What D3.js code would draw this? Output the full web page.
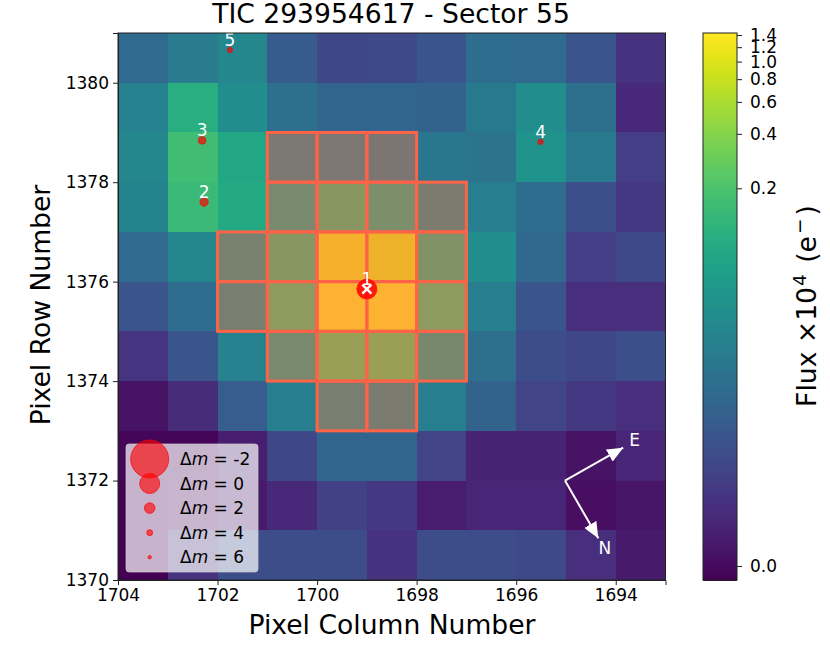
<!DOCTYPE html>
<html>
<head>
<meta charset="utf-8">
<script src="https://cdn.jsdelivr.net/npm/d3@7"></script>
<style>
  body { margin: 0; background: #fff; }
  text { font-family: "DejaVu Sans", sans-serif; }
  .tick text { font-size: 17px; fill: #000; }
  .tick line, .domain { stroke: #222; }
</style>
</head>
<body>
<svg id="chart" width="830" height="659"></svg>
<script>
// pixel grid, left edge columns and top edge rows
const columns = [1704, 1703, 1702, 1701, 1700, 1699, 1698, 1697, 1696, 1695, 1694];
const rows = [1381, 1380, 1379, 1378, 1377, 1376, 1375, 1374, 1373, 1372, 1371];

// flux x10^4 e-, one line per row from top to bottom
const flux0 = [0.0135, 0.0231, 0.0336, 0.0083, 0.00446, 0.0049, 0.00699, 0.0146, 0.0135, 0.00699, 0.00213];
const flux1 = [0.0290, 0.108, 0.0390, 0.0158, 0.0115, 0.0115, 0.0106, 0.0214, 0.0390, 0.0158, 0.00143];
const flux2 = [0.0336, 0.172, 0.0867, 0.0336, 0.0312, 0.0269, 0.0198, 0.0184, 0.0485, 0.0214, 0.00332];
const flux3 = [0.0300, 0.154, 0.0932, 0.0750, 0.154, 0.100, 0.0361, 0.0249, 0.0146, 0.00588, 0.00268];
const flux4 = [0.0135, 0.0336, 0.0522, 0.154, 1.22, 1.057, 0.124, 0.0390, 0.0125, 0.00332, 0.0049];
const flux5 = [0.00699, 0.0146, 0.0451, 0.178, 1.43, 1.43, 0.178, 0.0249, 0.00699, 0.00188, 0.00188];
const flux6 = [0.00239, 0.00699, 0.0290, 0.0750, 0.237, 0.237, 0.0698, 0.0158, 0.00537, 0.00446, 0.00588];
const flux7 = [0.00029, 0.00165, 0.0090, 0.0249, 0.0419, 0.0361, 0.0249, 0.0106, 0.00405, 0.00268, 0.00188];
const flux8 = [-0.00015, -0.00015, 0.00087, 0.00446, 0.0115, 0.0115, 0.00405, 0.00105, 0.00105, 0.00029, 0.00123];
const flux9 = [-0.0003, -0.00006, 0.00056, 0.00143, 0.00367, 0.00268, 0.00071, 0.00123, 0.00123, 0.00016, 0.00042];
const flux10 = [-0.0003, 0.00213, 0.00537, 0.00537, 0.00537, 0.00213, 0.00537, 0.00537, 0.0049, 0.00188, 0.00056];
const flux = [flux0, flux1, flux2, flux3, flux4, flux5, flux6, flux7, flux8, flux9, flux10];

// aperture mask, same order as flux
const aperture = [
  [0, 0, 0, 0, 0, 0, 0, 0, 0, 0, 0],
  [0, 0, 0, 0, 0, 0, 0, 0, 0, 0, 0],
  [0, 0, 0, 1, 1, 1, 0, 0, 0, 0, 0],
  [0, 0, 0, 1, 1, 1, 1, 0, 0, 0, 0],
  [0, 0, 1, 1, 1, 1, 1, 0, 0, 0, 0],
  [0, 0, 1, 1, 1, 1, 1, 0, 0, 0, 0],
  [0, 0, 0, 1, 1, 1, 1, 0, 0, 0, 0],
  [0, 0, 0, 0, 1, 1, 0, 0, 0, 0, 0],
  [0, 0, 0, 0, 0, 0, 0, 0, 0, 0, 0],
  [0, 0, 0, 0, 0, 0, 0, 0, 0, 0, 0],
  [0, 0, 0, 0, 0, 0, 0, 0, 0, 0, 0]
];

// nearby stars
const starIds = ["1", "2", "3", "4", "5"];
const starCols = [1699.0, 1702.27, 1702.31, 1695.51, 1701.75];
const starRows = [1375.85, 1377.6, 1378.84, 1378.81, 1380.66];
const starMags = [0, 3, 3.3, 4.5, 4.7];

const legendMags = [-2, 0, 2, 4, 6];
const xTicks = [1704, 1702, 1700, 1698, 1696, 1694];
const yTicks = [1370, 1372, 1374, 1376, 1378, 1380];
const cbarTicks = [0.0, 0.2, 0.4, 0.6, 0.8, 1.0, 1.2, 1.4];

const svg = d3.select("#chart");

const x = d3.scaleLinear().domain([1704, 1693]).range([118, 665.5]);
const y = d3.scaleLinear().domain([1370, 1381]).range([580, 33]);
const size = d3.scaleLinear().domain(legendMags).range([19, 10, 5.3, 3, 1.7]);

// colour stretch is symlog
const fluxMin = -0.00033, fluxMax = 1.436, linThresh = 0.0017;
const norm = d3.scaleSymlog().constant(linThresh).domain([fluxMin, fluxMax]).range([0, 1]);
const colour = v => d3.interpolateViridis(norm(v));

// image
const cells = flux.flatMap((line, i) => line.map((v, j) => ({
  col: columns[j], row: rows[i], v: v, inAperture: aperture[i][j] === 1
})));

svg.append("g")
  .attr("shape-rendering", "crispEdges")
  .selectAll("rect")
  .data(cells)
  .join("rect")
  .attr("x", d => x(d.col))
  .attr("y", d => y(d.row))
  .attr("width", x(1703) - x(1704))
  .attr("height", y(1370) - y(1371))
  .attr("fill", d => colour(d.v));

// aperture
svg.append("g")
  .selectAll("rect")
  .data(cells.filter(d => d.inAperture))
  .join("rect")
  .attr("x", d => x(d.col))
  .attr("y", d => y(d.row))
  .attr("width", x(1703) - x(1704))
  .attr("height", y(1370) - y(1371))
  .attr("fill", "tomato")
  .attr("fill-opacity", 0.4)
  .attr("stroke", "tomato")
  .attr("stroke-width", 3);

// stars, the target sits on top of a second marker so it reads stronger
svg.append("g")
  .selectAll("circle")
  .data(starIds)
  .join("circle")
  .attr("cx", (d, i) => x(starCols[i]))
  .attr("cy", (d, i) => y(starRows[i]))
  .attr("r", (d, i) => size(starMags[i]))
  .attr("fill", "red")
  .attr("fill-opacity", (d, i) => i === 0 ? 0.85 : 0.68)
  .attr("stroke", "red")
  .attr("stroke-opacity", 0.68);

svg.append("path")
  .attr("d", d3.symbol(d3.symbolTimes, 55)())
  .attr("transform", `translate(${x(starCols[0])},${y(starRows[0])})`)
  .attr("stroke", "white")
  .attr("stroke-width", 2.4)
  .attr("fill", "none");

svg.append("g")
  .selectAll("text")
  .data(starIds)
  .join("text")
  .attr("x", (d, i) => x(starCols[i]))
  .attr("y", (d, i) => y(starRows[i]) - 4)
  .attr("text-anchor", "middle")
  .attr("fill", "white")
  .style("font-size", "17px")
  .text(d => d);

// compass
const compass = [
  { name: "E", tipCol: 1693.85, tipRow: 1372.66, textCol: 1693.62, textRow: 1372.82 },
  { name: "N", tipCol: 1694.35, tipRow: 1370.84, textCol: 1694.22, textRow: 1370.64 }
];
const originCol = 1695.02, originRow = 1372.0;

svg.append("defs").append("marker")
  .attr("id", "head")
  .attr("markerUnits", "userSpaceOnUse")
  .attr("viewBox", "0 0 16 14")
  .attr("refX", 16).attr("refY", 7)
  .attr("markerWidth", 16).attr("markerHeight", 14)
  .attr("orient", "auto")
  .append("path")
  .attr("d", "M0,0L16,7L0,14Z")
  .attr("fill", "white");

const arrows = svg.append("g");
arrows.selectAll("line")
  .data(compass)
  .join("line")
  .attr("x1", x(originCol))
  .attr("y1", y(originRow))
  .attr("x2", d => x(d.tipCol))
  .attr("y2", d => y(d.tipRow))
  .attr("stroke", "white")
  .attr("stroke-width", 2)
  .attr("marker-end", "url(#head)");
arrows.selectAll("text")
  .data(compass)
  .join("text")
  .attr("x", d => x(d.textCol))
  .attr("y", d => y(d.textRow))
  .attr("text-anchor", "middle")
  .attr("dominant-baseline", "central")
  .attr("fill", "white")
  .style("font-size", "17px")
  .text(d => d.name);

// legend
const legend = svg.append("g");
legend.append("rect")
  .attr("x", 126).attr("y", 444)
  .attr("width", 132).attr("height", 128)
  .attr("rx", 3)
  .attr("fill", "white")
  .attr("fill-opacity", 0.7)
  .attr("stroke", "#ccc")
  .attr("stroke-opacity", 0.7);

const legendRow = legend.selectAll("g")
  .data(legendMags)
  .join("g")
  .attr("transform", (d, i) => `translate(0,${459 + i * 24.55})`);
legendRow.append("circle")
  .attr("cx", 149.7)
  .attr("r", d => size(d))
  .attr("fill", "red")
  .attr("fill-opacity", 0.62)
  .attr("stroke", "red")
  .attr("stroke-opacity", 0.68);
const legendText = legendRow.append("text")
  .attr("x", 180)
  .attr("dy", "0.35em")
  .attr("fill", "#000")
  .style("font-size", "17px");
legendText.append("tspan").text("\u0394");
legendText.append("tspan").style("font-style", "italic").text("m");
legendText.append("tspan").text(d => ` = ${d}`);

// axes
svg.append("g")
  .attr("transform", "translate(0,580)")
  .call(d3.axisBottom(x).tickValues(xTicks).tickFormat(d3.format("d")).tickSize(5).tickPadding(4));
svg.append("g")
  .attr("transform", "translate(118,0)")
  .call(d3.axisLeft(y).tickValues(yTicks).tickFormat(d3.format("d")).tickSize(5).tickPadding(4));
svg.append("rect")
  .attr("x", 118).attr("y", 33)
  .attr("width", 547.5).attr("height", 547)
  .attr("fill", "none")
  .attr("stroke", "#222");

svg.append("text")
  .attr("x", 391).attr("y", 23)
  .attr("text-anchor", "middle")
  .style("font-size", "26.6px")
  .text("TIC 293954617 - Sector 55");
svg.append("text")
  .attr("x", 392).attr("y", 634)
  .attr("text-anchor", "middle")
  .style("font-size", "26.6px")
  .text("Pixel Column Number");
svg.append("text")
  .attr("transform", "translate(50,305) rotate(-90)")
  .attr("text-anchor", "middle")
  .style("font-size", "26.6px")
  .text("Pixel Row Number");

// colorbar
const cbarY = d3.scaleSymlog().constant(linThresh).domain([fluxMin, fluxMax]).range([580, 33]);
const cbar = svg.append("g");
cbar.append("g")
  .attr("shape-rendering", "crispEdges")
  .selectAll("rect")
  .data(d3.range(256))
  .join("rect")
  .attr("x", 703)
  .attr("y", d => 580 - (d + 1) * 547 / 256)
  .attr("width", 34)
  .attr("height", 547 / 256 + 0.5)
  .attr("fill", d => d3.interpolateViridis(d / 255));
cbar.append("rect")
  .attr("x", 703).attr("y", 33)
  .attr("width", 34).attr("height", 547)
  .attr("fill", "none")
  .attr("stroke", "#222");
cbar.append("g")
  .attr("transform", "translate(737,0)")
  .call(d3.axisRight(cbarY).tickValues(cbarTicks).tickFormat(d3.format(".1f")).tickSize(5).tickPadding(8))
  .call(g => g.select(".domain").remove());

const cbarLabel = svg.append("text")
  .attr("transform", "translate(816,306) rotate(-90)")
  .attr("text-anchor", "middle")
  .style("font-size", "26.6px");
cbarLabel.append("tspan").text("Flux \u00d710");
cbarLabel.append("tspan").attr("dy", -10).attr("dx", 1).style("font-size", "18.5px").text("4");
cbarLabel.append("tspan").attr("dy", 10).attr("dx", 3).text(" (e");
cbarLabel.append("tspan").attr("dy", -10).attr("dx", 2).style("font-size", "18.5px").text("\u2212");
cbarLabel.append("tspan").attr("dy", 10).attr("dx", 3).text(")");
</script>
</body>
</html>
